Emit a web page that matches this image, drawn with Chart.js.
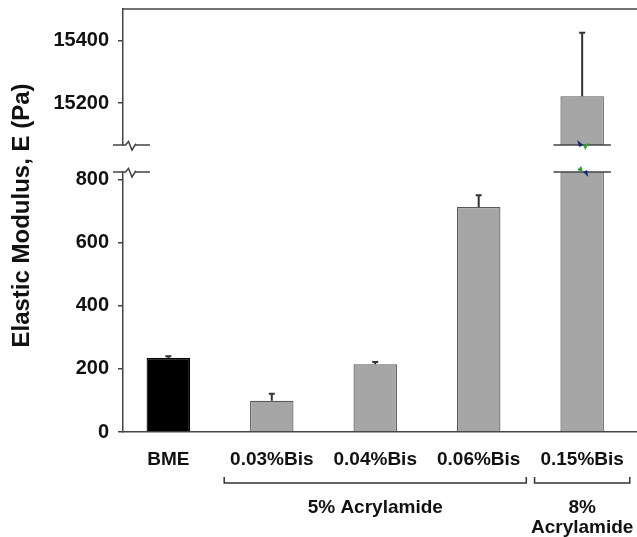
<!DOCTYPE html>
<html lang="en">
<head>
<meta charset="UTF-8">
<title>Elastic Modulus</title>
<style>
  body { margin: 0; background: #fff; }
</style>
</head>
<body>
<canvas id="modulusChart" width="637" height="537"></canvas>

<script src="https://cdn.jsdelivr.net/npm/chart.js@4.4.0/dist/chart.umd.min.js"></script>
<script>
    // values
    const gels = ['BME', '0.03%Bis', '0.04%Bis', '0.06%Bis', '0.15%Bis'];
    const modulus = [235, 99, 215, 714, 15222];
    const modulusErr = [5, 22, 7, 37, 202];
    const barColors = ['#000000', '#a6a6a6', '#a6a6a6', '#a6a6a6', '#a6a6a6'];
    const barBorders = ['#000000', '#585858', '#585858', '#585858', '#585858'];

    // group brackets under the x labels
    const groupLabels = [['5% Acrylamide'], ['8%', 'Acrylamide']];
    const groupFirst = [1, 4];
    const groupLast = [3, 4];

    // broken y axis: two panels
    const lowerRange = [0, 825];
    const upperRange = [15067, 15500];
    const lowerTicks = [0, 100, 200, 300, 400, 500, 600, 700, 800];
    const lowerLabelled = [0, 200, 400, 600, 800];
    const upperTicks = [15200, 15400];

    const FONT = "'Liberation Sans', Arial, sans-serif";
    const INK = '#444';

    Chart.defaults.font.family = FONT;
    Chart.defaults.font.weight = 'bold';
    Chart.defaults.color = '#111';

    function fixWidth(s) { s.width = 70; s.paddingTop = 0; s.paddingBottom = 0; }

    // clip each dataset to its own panel, draw error bars, breaks, title, brackets
    const brokenAxis = {
        id: 'brokenAxis',
        beforeDatasetDraw(chart, args) {
            const ys = args.meta.yScale, a = chart.chartArea, ctx = chart.ctx;
            ctx.save();
            ctx.beginPath();
            ctx.rect(a.left, ys.top, a.right - a.left, ys.bottom - ys.top);
            ctx.clip();
        },
        afterDatasetDraw(chart, args) {
            const ctx = chart.ctx, meta = args.meta, ys = meta.yScale;
            ctx.strokeStyle = '#333';
            ctx.lineWidth = 2;
            meta.data.forEach((bar, i) => {
                const yTop = ys.getPixelForValue(modulus[i] + modulusErr[i]);
                ctx.beginPath();
                ctx.moveTo(bar.x, bar.y);
                ctx.lineTo(bar.x, yTop);
                ctx.moveTo(bar.x - 3, yTop);
                ctx.lineTo(bar.x + 3, yTop);
                ctx.stroke();
            });
            ctx.restore();
        },
        afterDraw(chart) {
            const ctx = chart.ctx, a = chart.chartArea;
            const up = chart.scales.yHigh, low = chart.scales.yLow, xs = chart.scales.x;
            ctx.save();
            ctx.strokeStyle = INK;
            ctx.lineWidth = 1.5;

            // frame top line
            ctx.beginPath();
            ctx.moveTo(a.left, a.top);
            ctx.lineTo(a.right, a.top);
            ctx.stroke();

            // axis break marks
            [up.bottom, low.top].forEach(y => {
                const x0 = a.left;
                ctx.beginPath();
                ctx.moveTo(x0 - 10, y);
                ctx.lineTo(x0 + 2.5, y);
                ctx.lineTo(x0 + 5.5, y - 3.5);
                ctx.lineTo(x0 + 9, y + 5);
                ctx.lineTo(x0 + 12.5, y - 0.7);
                ctx.lineTo(x0 + 13.5, y);
                ctx.lineTo(x0 + 27, y);
                ctx.stroke();
            });

            // break on the tall bar
            const tall = chart.getDatasetMeta(0).data[4];
            const half = tall.width / 2 + 7;
            ctx.beginPath();
            ctx.moveTo(tall.x - half, up.bottom);
            ctx.lineTo(tall.x + half, up.bottom);
            ctx.moveTo(tall.x - half, low.top);
            ctx.lineTo(tall.x + half, low.top);
            ctx.stroke();

            const tri = (pts, col) => {
                ctx.fillStyle = col;
                ctx.beginPath();
                ctx.moveTo(pts[0][0], pts[0][1]);
                ctx.lineTo(pts[1][0], pts[1][1]);
                ctx.lineTo(pts[2][0], pts[2][1]);
                ctx.closePath();
                ctx.fill();
            };
            let cx = tall.x + 1, cy = up.bottom;
            tri([[cx, cy], [cx - 6, cy - 5], [cx - 4, cy + 2]], '#1a237e');
            tri([[cx, cy], [cx + 6, cy - 2], [cx + 2, cy + 5]], '#2fa52f');
            cy = low.top;
            tri([[cx, cy], [cx - 6, cy - 2], [cx - 2, cy - 6]], '#2fa52f');
            tri([[cx, cy], [cx + 4, cy - 2], [cx + 5, cy + 5]], '#1a237e');

            // y title
            ctx.fillStyle = '#111';
            ctx.font = 'bold 24px ' + FONT;
            ctx.textAlign = 'center';
            ctx.textBaseline = 'middle';
            ctx.save();
            ctx.translate(22, (a.top + a.bottom) / 2 - 5);
            ctx.rotate(-Math.PI / 2);
            ctx.fillText('Elastic Modulus, E (Pa)', 0, 0);
            ctx.restore();

            // group brackets
            ctx.strokeStyle = '#333';
            ctx.font = 'bold 19px ' + FONT;
            groupLabels.forEach((lines, g) => {
                const x1 = xs.getPixelForValue(groupFirst[g] - 0.46);
                const x2 = xs.getPixelForValue(groupLast[g] + 0.46);
                ctx.beginPath();
                ctx.moveTo(x1, 477);
                ctx.lineTo(x1, 483);
                ctx.lineTo(x2, 483);
                ctx.lineTo(x2, 477);
                ctx.stroke();
                const xm = (x1 + x2) / 2;
                lines.forEach((t, k) => ctx.fillText(t, xm, 508 + k * 20));
            });
            ctx.restore();
        }
    };

    const ctx = document.getElementById('modulusChart').getContext('2d');
    const barStyle = {
        backgroundColor: barColors,
        borderColor: barBorders,
        borderWidth: 1.2,
        grouped: false,
        categoryPercentage: 1,
        barPercentage: 0.42
    };

    new Chart(ctx, {
        type: 'bar',
        data: {
            datasets: [
                Object.assign({ data: modulus.map((v, i) => ({ x: i, y: v })), yAxisID: 'yLow' }, barStyle),
                Object.assign({ data: modulus.map((v, i) => ({ x: i, y: v })), yAxisID: 'yHigh' }, barStyle)
            ]
        },
        options: {
            responsive: false,
            animation: false,
            layout: { padding: { left: 53, right: 0, top: 9, bottom: 65 } },
            plugins: { legend: { display: false }, tooltip: { enabled: false } },
            scales: {
                x: {
                    type: 'linear',
                    min: -0.438,
                    max: 4.53,
                    offset: false,
                    grid: { display: false, drawTicks: false, offset: false },
                    border: { color: INK, width: 1.5 },
                    ticks: {
                        stepSize: 1,
                        includeBounds: false,
                        padding: 16,
                        maxRotation: 0,
                        autoSkip: false,
                        font: { size: 19 },
                        callback: v => Number.isInteger(v) ? gels[v] : ''
                    },
                    afterFit: s => { s.height = 40; s.paddingLeft = 0; s.paddingRight = 0; }
                },
                yHigh: {
                    type: 'linear',
                    position: 'left',
                    stack: 'panels',
                    stackWeight: 136,
                    weight: 2,
                    min: upperRange[0],
                    max: upperRange[1],
                    grid: { drawOnChartArea: false, tickLength: 5, color: INK, lineWidth: 1.5 },
                    border: { color: INK, width: 1.5 },
                    ticks: {
                        padding: 9,
                        font: { size: 20 },
                        callback: v => String(v)
                    },
                    afterBuildTicks: s => { s.ticks = upperTicks.map(v => ({ value: v })); },
                    afterFit: fixWidth
                },
                yGap: {
                    type: 'linear',
                    position: 'left',
                    stack: 'panels',
                    stackWeight: 27,
                    weight: 1,
                    grid: { display: false, drawTicks: false },
                    border: { display: false },
                    ticks: { display: false },
                    afterFit: fixWidth
                },
                yLow: {
                    type: 'linear',
                    position: 'left',
                    stack: 'panels',
                    stackWeight: 260,
                    weight: 0,
                    min: lowerRange[0],
                    max: lowerRange[1],
                    grid: { drawOnChartArea: false, tickLength: 5, color: INK, lineWidth: 1.5 },
                    border: { color: INK, width: 1.5 },
                    ticks: {
                        padding: 9,
                        font: { size: 20 },
                        callback: v => lowerLabelled.includes(v) ? String(v) : ''
                    },
                    afterBuildTicks: s => { s.ticks = lowerTicks.map(v => ({ value: v })); },
                    afterFit: fixWidth
                }
            }
        },
        plugins: [brokenAxis]
    });
</script>
</body>
</html>
